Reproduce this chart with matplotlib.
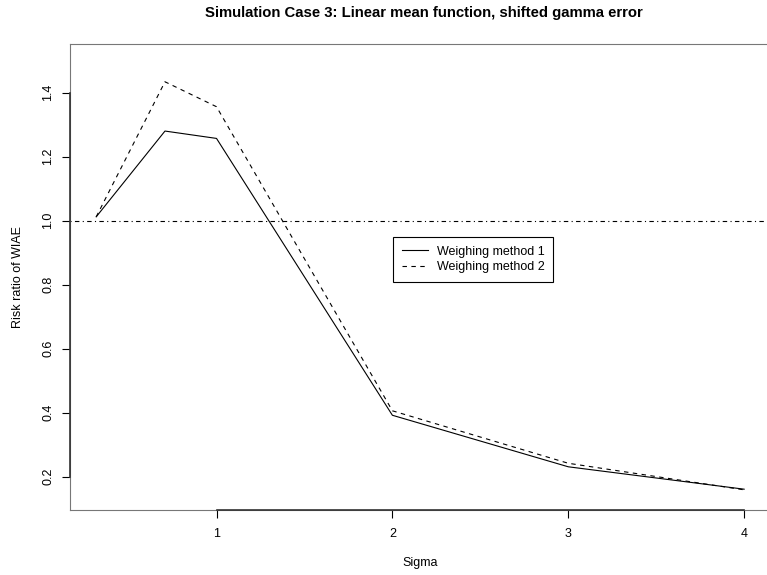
import matplotlib
matplotlib.use("Agg")
import matplotlib.pyplot as plt

# values
sigma = [0.316, 0.707, 1, 2, 3, 4]
method1 = [1.012, 1.280, 1.257, 0.392, 0.231, 0.161]
method2 = [1.012, 1.434, 1.356, 0.406, 0.242, 0.159]
x_ticks = [1, 2, 3, 4]
y_ticks = [0.2, 0.4, 0.6, 0.8, 1.0, 1.2, 1.4]
ref_level = 1.0

plt.rcParams['font.family'] = ['Liberation Sans', 'DejaVu Sans']

W, H = 767, 575
fig = plt.figure(figsize=(W / 100, H / 100), dpi=100)
# plot box in pixels: left 70, right 770 (cut off by figure edge), top 44, bottom 510
ax = fig.add_axes([70 / W, 1 - 510 / H, 700 / W, 466 / H])

ax.plot(sigma, method1, color='black', lw=0.8, label='Weighing method 1')
ax.plot(sigma, method2, color='black', lw=0.8, ls=(0, (4, 4)), label='Weighing method 2')
ax.axhline(ref_level, color='black', lw=0.8, ls=(0, (1, 3, 4, 3)))

ax.set_xlim(0.167, 4.147)
ax.set_ylim(0.096, 1.552)

ax.set_xticks(x_ticks)
ax.set_xticklabels([str(t) for t in x_ticks])
ax.set_yticks(y_ticks)
ax.set_yticklabels([f"{t:.1f}" for t in y_ticks])
ax.tick_params(direction='out', length=5.5, width=0.8, labelsize=9, colors='black')
ax.tick_params(axis='x', pad=7.5)
ax.tick_params(axis='y', pad=6, labelrotation=90)
for lab in ax.get_yticklabels():
    lab.set_va('center')

# R-style box: light frame, darker axis line over the tick range
for sp in ax.spines.values():
    sp.set_color('#777777')
    sp.set_linewidth(0.8)
ylo = ax.get_ylim()[0]
xlo = ax.get_xlim()[0]
ax.plot([x_ticks[0], x_ticks[-1]], [ylo, ylo], color='#333333', lw=1.2,
        clip_on=False, zorder=3)
ax.plot([xlo, xlo], [y_ticks[0], y_ticks[-1]], color='#333333', lw=1.2,
        clip_on=False, zorder=3)

ax.set_xlabel('Sigma', fontsize=9)
ax.set_ylabel('Risk ratio of WIAE', fontsize=9)
ax.xaxis.set_label_coords((420 - 70) / 700, (510 - 563) / 466)
ax.yaxis.set_label_coords((18 - 70) / 700, 0.5)
ax.xaxis.label.set_va('center')
ax.yaxis.label.set_va('center')

fig.text(424 / W, 1 - 13 / H, 'Simulation Case 3: Linear mean function, shifted gamma error',
         ha='center', va='center', fontsize=10.7, fontweight='bold')

leg = ax.legend(loc='upper left', bbox_to_anchor=(393 / W, 1 - 237 / H),
                bbox_transform=fig.transFigure, borderaxespad=0, fancybox=False,
                edgecolor='black', fontsize=9, handlelength=2.1, handletextpad=0.7,
                borderpad=0.7, labelspacing=0.25, framealpha=1)
leg.get_frame().set_linewidth(0.8)

fig.savefig('out.png', dpi=100)
